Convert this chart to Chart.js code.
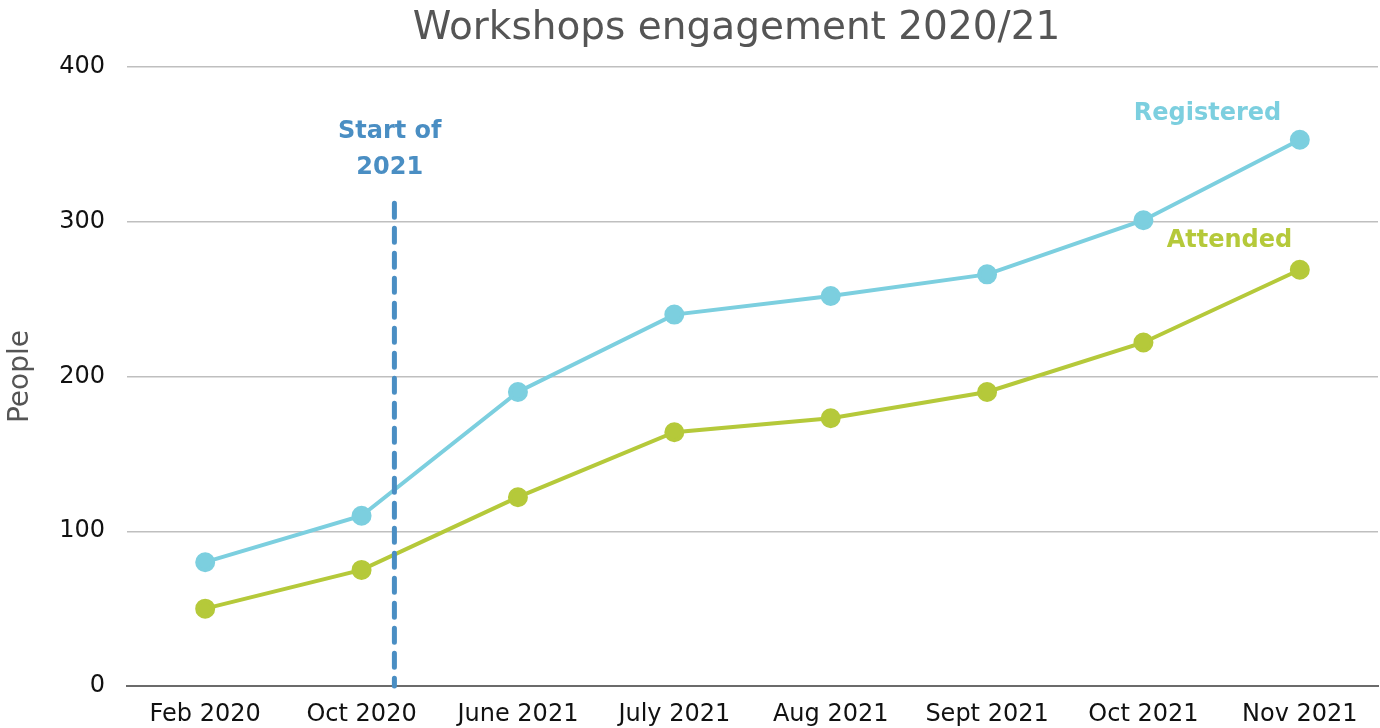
<!DOCTYPE html>
<html>
<head>
<meta charset="utf-8">
<script src="https://cdn.jsdelivr.net/npm/chart.js@4"></script>
<style>
  html, body { margin: 0; padding: 0; background: #fff; }
  #wrap { width: 1380px; height: 728px; }
</style>
</head>
<body>
<div id="wrap"><canvas id="workshops-Chart"></canvas></div>
<script>
const months = ["Feb 2020", "Oct 2020", "June 2021", "July 2021", "Aug 2021", "Sept 2021", "Oct 2021", "Nov 2021"];
const registered = [80, 110, 190, 240, 252, 266, 301, 353];
const attended = [50, 75, 122, 164, 173, 190, 222, 269];
const yTicks = [0, 100, 200, 300, 400];

// "start of 2021" marker, in category index units
const startOf2021 = 1.21;
const markerTop = 312;

const blue = "#7ccfdf";
const green = "#b5c93a";
const markerBlue = "#4a8ec3";
const font = "'DejaVu Sans', sans-serif";
const chartTitle = "Workshops engagement 2020/21";

// labels drawn inside the chart, positioned in data units
const notes = [
  { text: "Start of", x: 1.18, y: 358, color: markerBlue },
  { text: "2021", x: 1.18, y: 335, color: markerBlue },
  { text: "Registered", x: 6.41, y: 370, color: blue },
  { text: "Attended", x: 6.55, y: 288, color: green },
];

// title is drawn by hand so it can sit a bit left of the plot centre like the original
const titlePlugin = {
  id: "titleText",
  beforeDraw(chart) {
    const ctx = chart.ctx;
    const area = chart.chartArea;
    ctx.save();
    ctx.font = "39px " + font;
    ctx.fillStyle = "#555555";
    ctx.textAlign = "center";
    ctx.textBaseline = "middle";
    ctx.fillText(chartTitle, (area.left + area.right) / 2 - 16, 29);
    ctx.restore();
  }
};

const markerPlugin = {
  id: "marker",
  afterDatasetsDraw(chart) {
    const ctx = chart.ctx;
    const x = chart.scales.x.getPixelForValue(startOf2021);
    const y0 = chart.scales.y.getPixelForValue(0);
    const y1 = chart.scales.y.getPixelForValue(markerTop);
    ctx.save();
    ctx.strokeStyle = markerBlue;
    ctx.lineWidth = 5;
    ctx.lineCap = "round";
    ctx.setLineDash([14, 11]);
    ctx.beginPath();
    ctx.moveTo(x, y1);
    ctx.lineTo(x, y0);
    ctx.stroke();
    ctx.setLineDash([]);
    ctx.font = "bold 24px " + font;
    ctx.textAlign = "center";
    ctx.textBaseline = "middle";
    notes.forEach(n => {
      ctx.fillStyle = n.color;
      ctx.fillText(n.text, chart.scales.x.getPixelForValue(n.x), chart.scales.y.getPixelForValue(n.y));
    });
    ctx.restore();
  }
};

const data = {
  labels: months,
  datasets: [
    {
      label: "Registered",
      data: registered,
      borderColor: blue,
      backgroundColor: blue,
      borderWidth: 4,
      pointRadius: 8,
      pointHoverRadius: 8,
    },
    {
      label: "Attended",
      data: attended,
      borderColor: green,
      backgroundColor: green,
      borderWidth: 4,
      pointRadius: 8,
      pointHoverRadius: 8,
    },
  ],
};

const config = {
  type: "line",
  data: data,
  plugins: [titlePlugin, markerPlugin],
  options: {
    responsive: true,
    maintainAspectRatio: false,
    animation: false,
    layout: { autoPadding: false, padding: { top: 67, right: 2, bottom: 0, left: 0 } },
    plugins: {
      legend: { display: false },
      tooltip: { enabled: false },
      title: { display: false },
    },
    scales: {
      x: {
        offset: true,
        afterFit: axis => { axis.height = 42; },
        grid: { display: false, drawTicks: false },
        border: { color: "#6b6b6b", width: 2 },
        ticks: { color: "#111", font: { family: font, size: 24 }, padding: 14, maxRotation: 0 },
      },
      y: {
        min: 0,
        max: 400,
        afterFit: axis => { axis.width = 127; },
        afterBuildTicks: axis => { axis.ticks = yTicks.map(v => ({ value: v })); },
        grid: { color: "#bfbfbf", lineWidth: 1.5, drawTicks: false },
        border: { display: false },
        ticks: { color: "#111", font: { family: font, size: 24 }, padding: 22 },
        title: {
          display: true,
          text: "People",
          color: "#555555",
          font: { family: font, size: 28 },
          padding: { top: 4, bottom: 21 },
        },
      },
    },
  },
};

let myChart = new Chart(document.getElementById("workshops-Chart"), config);
</script>
</body>
</html>
